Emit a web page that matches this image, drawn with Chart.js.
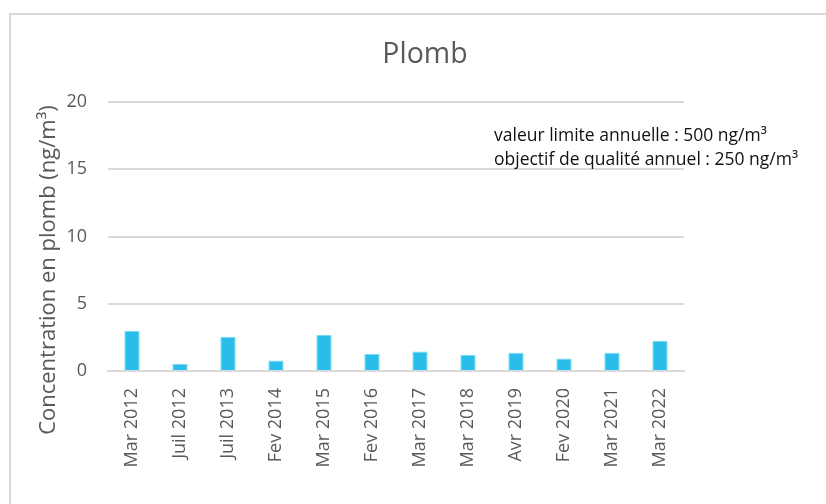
<!DOCTYPE html>
<html lang="fr">
<head>
<meta charset="utf-8">
<title>Plomb</title>
<script src="https://cdn.jsdelivr.net/npm/chart.js@4/dist/chart.umd.min.js"></script>
<style>
  html, body { margin: 0; padding: 0; background: #ffffff; }
  #wrap { width: 826px; height: 504px; position: relative; }
</style>
</head>
<body>
<div id="wrap"><canvas id="c" width="826" height="504"></canvas></div>
<script>
// Campagnes de mesure
const categories = ['Mar 2012', 'Juil 2012', 'Juil 2013', 'Fev 2014', 'Mar 2015', 'Fev 2016',
                    'Mar 2017', 'Mar 2018', 'Avr 2019', 'Fev 2020', 'Mar 2021', 'Mar 2022'];
// Concentration en plomb (ng/m³)
const plombValues = [3.0, 0.53, 2.53, 0.78, 2.68, 1.28, 1.45, 1.2, 1.35, 0.93, 1.35, 2.25];
// Graduations de l'axe vertical
const yTicks = [0, 5, 10, 15, 20];
// Valeurs réglementaires affichées en note
const noteLines = ['valeur limite annuelle : 500 ng/m³', 'objectif de qualité annuel : 250 ng/m³'];

const FONT = '"Open Sans", "Noto Sans", sans-serif';
const GREY_TEXT = '#595959';

// Cadre, titre, titre d'axe et note
const decor = {
  id: 'decor',
  beforeDraw(chart) {
    const ctx = chart.ctx;
    ctx.save();
    ctx.fillStyle = '#ffffff';
    ctx.fillRect(0, 0, chart.width, chart.height);
    ctx.strokeStyle = '#d9d9d9';
    ctx.lineWidth = 2;
    ctx.strokeRect(10, 14, 830, 500);
    ctx.restore();
  },
  afterDraw(chart) {
    const ctx = chart.ctx;
    ctx.save();
    // Titre
    ctx.fillStyle = GREY_TEXT;
    ctx.font = '28.5px ' + FONT;
    ctx.textAlign = 'center';
    ctx.textBaseline = 'alphabetic';
    ctx.fillText('Plomb', 425, 63);
    // Titre de l'axe vertical
    ctx.save();
    ctx.translate(49, 270);
    ctx.rotate(-Math.PI / 2);
    ctx.font = '22px ' + FONT;
    ctx.textAlign = 'center';
    ctx.textBaseline = 'middle';
    ctx.fillText('Concentration en plomb (ng/m³)', 0, 0);
    ctx.restore();
    // Note
    ctx.fillStyle = '#111111';
    ctx.font = '17.5px ' + FONT;
    ctx.textAlign = 'left';
    ctx.fillText(noteLines[0], 494, 141);
    ctx.fillText(noteLines[1], 494, 165);
    ctx.restore();
  }
};

new Chart(document.getElementById('c'), {
  type: 'bar',
  data: {
    labels: categories,
    datasets: [{
      label: 'Plomb',
      data: plombValues,
      backgroundColor: '#29bde9',
      borderColor: '#7fd6f2',
      borderWidth: { top: 1, left: 1, right: 1, bottom: 0 },
      barPercentage: 0.32,
      categoryPercentage: 1.0
    }]
  },
  options: {
    responsive: false,
    animation: false,
    devicePixelRatio: 1,
    layout: { padding: { left: 0, top: 102, right: 142, bottom: 0 } },
    plugins: {
      legend: { display: false },
      title: { display: false },
      tooltip: { enabled: false }
    },
    scales: {
      x: {
        grid: { display: false, drawTicks: false },
        border: { display: true, color: '#d9d9d9', width: 2 },
        ticks: {
          color: GREY_TEXT,
          font: { family: FONT, size: 18 },
          minRotation: 90,
          maxRotation: 90,
          padding: 17,
          autoSkip: false
        },
        afterFit(scale) { scale.height = 133; }
      },
      y: {
        min: 0,
        max: 20,
        afterBuildTicks(scale) { scale.ticks = yTicks.map(v => ({ value: v })); },
        grid: { color: '#d9d9d9', lineWidth: 2, drawTicks: false },
        border: { display: false },
        ticks: {
          color: GREY_TEXT,
          font: { family: FONT, size: 18 },
          padding: 21
        },
        afterFit(scale) { scale.width = 108; }
      }
    }
  },
  plugins: [decor]
});
</script>
</body>
</html>
